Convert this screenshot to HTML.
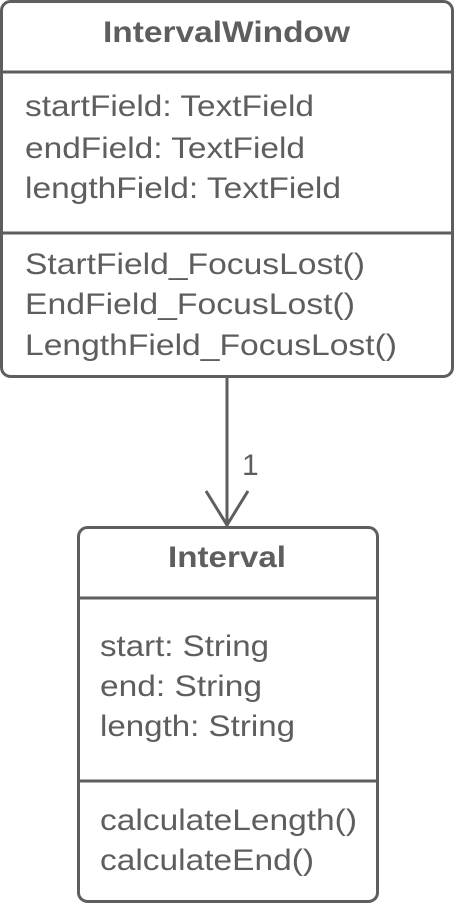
<!DOCTYPE html>
<html><head><style>body{margin:0;background:#fff}svg{display:block}</style></head>
<body>
<svg width="454" height="904" xmlns="http://www.w3.org/2000/svg" font-family="Liberation Sans, Arial, sans-serif" fill="#5e5e5e">
<g fill="none" stroke="#5e5e5e" stroke-width="3">
<rect x="1.5" y="1.5" width="451" height="375" rx="9"/>
<line x1="1.5" y1="72" x2="452.5" y2="72"/>
<line x1="1.5" y1="233" x2="452.5" y2="233"/>
<rect x="78.5" y="527.5" width="299" height="374" rx="9"/>
<line x1="78.5" y1="598" x2="377.5" y2="598"/>
<line x1="78.5" y1="781" x2="377.5" y2="781"/>
<line x1="227" y1="377" x2="227" y2="526"/>
<polyline points="206,491 227,525 248,491"/>
</g>
<g font-size="30" lengthAdjust="spacingAndGlyphs">
<text x="103" y="42" font-weight="bold" textLength="247" lengthAdjust="spacingAndGlyphs">IntervalWindow</text>
<text x="25" y="116" textLength="289" lengthAdjust="spacingAndGlyphs">startField: TextField</text>
<text x="25" y="158" textLength="280" lengthAdjust="spacingAndGlyphs">endField: TextField</text>
<text x="25" y="198" textLength="316" lengthAdjust="spacingAndGlyphs">lengthField: TextField</text>
<text x="25" y="274" textLength="340" lengthAdjust="spacingAndGlyphs">StartField_FocusLost()</text>
<text x="25" y="314" textLength="330" lengthAdjust="spacingAndGlyphs">EndField_FocusLost()</text>
<text x="25" y="355" textLength="372" lengthAdjust="spacingAndGlyphs">LengthField_FocusLost()</text>
<text x="168" y="567" font-weight="bold" textLength="118" lengthAdjust="spacingAndGlyphs">Interval</text>
<text x="100" y="656" textLength="169" lengthAdjust="spacingAndGlyphs">start: String</text>
<text x="100" y="696" textLength="162" lengthAdjust="spacingAndGlyphs">end: String</text>
<text x="100" y="736" textLength="195" lengthAdjust="spacingAndGlyphs">length: String</text>
<text x="100" y="830" textLength="257" lengthAdjust="spacingAndGlyphs">calculateLength()</text>
<text x="100" y="870" textLength="214" lengthAdjust="spacingAndGlyphs">calculateEnd()</text>
<text x="242" y="475">1</text>
</g>
</svg>
</body></html>
